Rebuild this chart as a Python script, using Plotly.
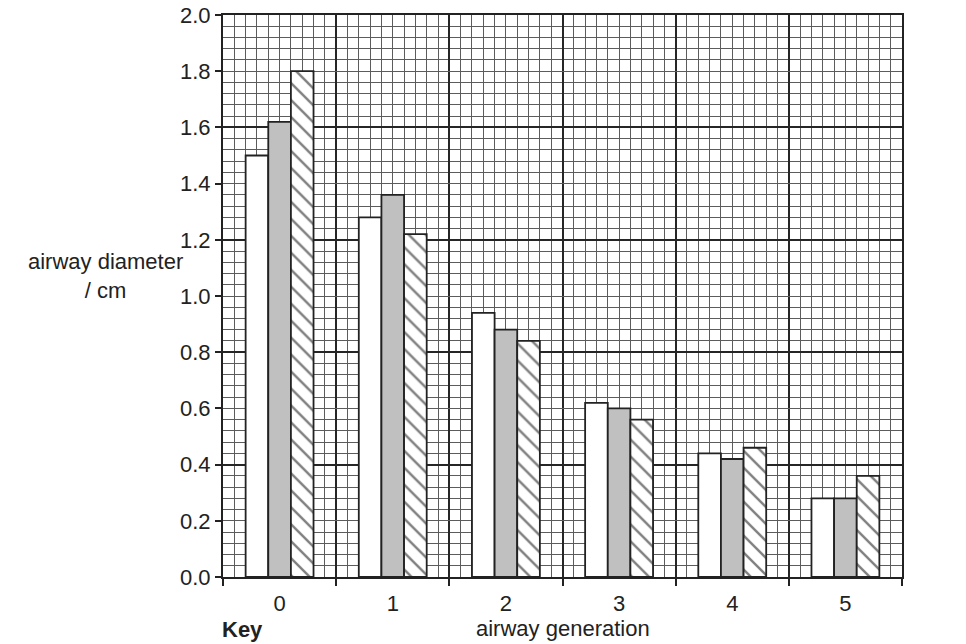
import plotly.graph_objects as go

generations = ["0", "1", "2", "3", "4", "5"]
diam_white = [1.50, 1.28, 0.94, 0.62, 0.44, 0.28]
diam_grey = [1.62, 1.36, 0.88, 0.60, 0.42, 0.28]
diam_hatched = [1.80, 1.22, 0.84, 0.56, 0.46, 0.36]
y_ticks = [0.0, 0.2, 0.4, 0.6, 0.8, 1.0, 1.2, 1.4, 1.6, 1.8, 2.0]

FONT = "Liberation Sans, Arial, sans-serif"
INK = "#222222"
MINOR = "#5c5c5c"
MAJOR = "#262626"
FS = 22
xpos = list(range(len(generations)))

fig = go.Figure()
fig.add_trace(go.Bar(x=xpos, y=diam_white, marker=dict(color="white", line=dict(color=INK, width=1.8)),
                     showlegend=False, hoverinfo="skip"))
fig.add_trace(go.Bar(x=xpos, y=diam_grey, marker=dict(color="#c0c0c0", line=dict(color=INK, width=1.8)),
                     showlegend=False, hoverinfo="skip"))
fig.add_trace(go.Bar(x=xpos, y=diam_hatched,
                     marker=dict(color="white", line=dict(color=INK, width=1.8),
                                 pattern=dict(shape="\\", fgcolor="#000000", bgcolor="white", size=12, solidity=0.2)),
                     showlegend=False, hoverinfo="skip"))
# helper invisible traces so overlay axes are drawn
fig.add_trace(go.Scatter(x=[0], y=[0], xaxis="x2", yaxis="y", mode="none", showlegend=False, hoverinfo="skip"))
fig.add_trace(go.Scatter(x=[0], y=[0], xaxis="x", yaxis="y2", mode="none", showlegend=False, hoverinfo="skip"))

xr = [-0.5, len(generations) - 0.5]
yr = [0, 2.0]

fig.update_layout(
    width=966, height=644,
    margin=dict(l=223, r=64, t=15, b=67),
    paper_bgcolor="white", plot_bgcolor="white",
    barmode="group", bargap=0.4, bargroupgap=0,
    font=dict(family=FONT, size=FS, color=INK),
    xaxis=dict(range=xr, tick0=-0.5, dtick=1, showticklabels=False, automargin=False,
               ticks="outside", ticklen=7, tickwidth=1.5, tickcolor=INK,
               showgrid=True, gridcolor=MAJOR, gridwidth=2, zeroline=False,
               showline=True, linecolor=INK, linewidth=2, mirror=True,
               minor=dict(tick0=-0.5, dtick=0.1, showgrid=True, gridcolor=MINOR, gridwidth=1, ticks="")),
    xaxis2=dict(range=xr, overlaying="x", anchor="y", side="bottom", automargin=False,
                tickvals=xpos, ticktext=generations, ticks="outside", ticklen=7,
                tickcolor="rgba(0,0,0,0)", showgrid=False, zeroline=False, showline=False,
                ticklabeloverflow="allow",
                tickfont=dict(family=FONT, size=FS, color=INK)),
    yaxis=dict(range=yr, tickvals=y_ticks, ticktext=[f"{v:.1f}" for v in y_ticks], automargin=False,
               ticks="outside", ticklen=6, tickwidth=1.5, tickcolor=INK,
               showgrid=True, gridcolor=MINOR, gridwidth=1, zeroline=False,
               showline=True, linecolor=INK, linewidth=2, mirror=True,
               ticklabeloverflow="allow",
               tickfont=dict(family=FONT, size=FS, color=INK),
               minor=dict(tick0=0, dtick=0.04, showgrid=True, gridcolor=MINOR, gridwidth=1, ticks="")),
    yaxis2=dict(range=yr, overlaying="y", anchor="x", side="left", tick0=0, dtick=0.4, automargin=False,
                showticklabels=False, ticks="", showgrid=True, gridcolor=MAJOR, gridwidth=2,
                zeroline=False, showline=False),
    annotations=[
        dict(text="airway diameter<br>/ cm", xref="paper", yref="paper", x=-0.173, y=0.5356,
             xanchor="center", yanchor="middle", showarrow=False, align="center",
             font=dict(family=FONT, size=FS, color=INK)),
        dict(text="airway generation", xref="paper", yref="paper", x=0.5, y=-0.092,
             xanchor="center", yanchor="middle", showarrow=False,
             font=dict(family=FONT, size=FS, color=INK)),
        dict(text="<b>Key</b>", xref="paper", yref="paper", x=-0.004, y=-0.094,
             xanchor="left", yanchor="middle", showarrow=False,
             font=dict(family=FONT, size=FS, color=INK)),
    ],
)

fig.write_html("out.html", config={"displayModeBar": False},
               post_script="document.body.style.margin='0px';")
